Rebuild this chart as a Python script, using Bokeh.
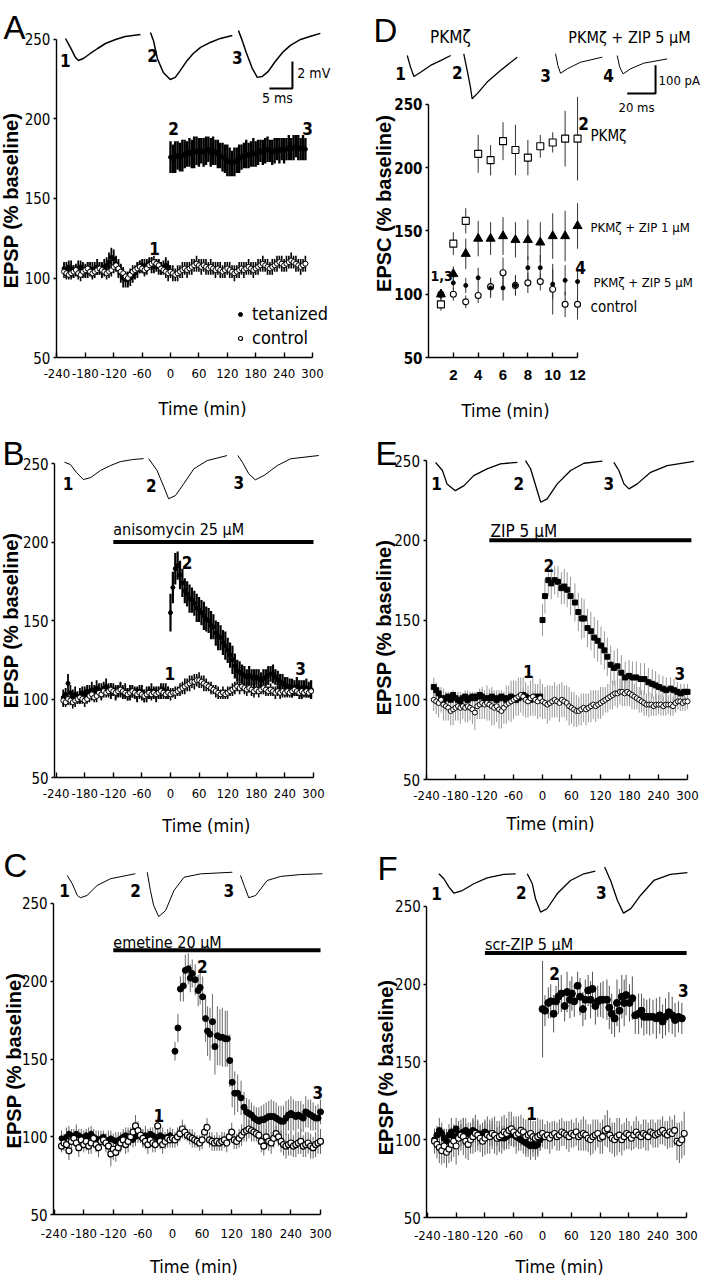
import math
from bokeh.plotting import figure
from bokeh.models import Range1d, Label, FixedTicker, Legend, LegendItem
from bokeh.layouts import column, row
from bokeh.embed import file_html
from bokeh.resources import INLINE

# ------------------------------------------------------------------ data
X_TICKS = [-240, -180, -120, -60, 0, 60, 120, 180, 240, 300]
X_TICK_LABELS = ["-240", "-180", "-120", "-60", "0", "60", "120", "180", "240", "300"]
Y_TICKS = [50, 100, 150, 200, 250]
D_X_TICKS = [2, 4, 6, 8, 10, 12]
D_X_TICK_LABELS = ["2", "4", "6", "8", "10", "12"]
T_BASE = list(range(-225, 0, 5))  # baseline sample times (min)

# Panel A (tetanized vs control)
A_POST_T = list(range(0, 290, 5))
A_TET_POST = [176,175,176,177,176,177,178,178,179,178,
              179,180,179,180,179,180,181,179,180,179,
              178,177,176,175,174,173,172,173,174,175,
              176,177,178,177,178,179,178,179,180,179,
              180,181,180,179,180,181,180,181,180,181,
              182,181,182,183,182,181,182,181]
A_TET_POST_E = [10,9,10,9,9,10,9,8,9,9,
                10,9,9,8,9,9,8,9,9,8,
                9,8,9,9,10,9,8,9,8,9,
                8,8,9,8,8,9,8,8,7,8,
                8,8,7,8,8,7,8,7,8,7,
                8,7,8,7,8,7,8,7]
A_TET_BASE = [106,105,107,106,104,105,106,107,105,104,
              105,106,105,106,107,106,105,107,108,110,
              113,112,109,106,103,100,99,99,100,101,
              103,105,107,108,107,108,109,108,107,108,
              107,106,107,108,107]
A_TET_BASE_E = [4,5,4,5,4,4,5,4,5,4,
                5,4,5,4,5,4,5,5,5,6,
                6,6,5,6,6,6,5,5,5,4,
                4,5,4,4,5,4,4,5,4,4,
                5,4,4,5,4]
A_CTL_T = list(range(-225, 290, 5))
A_CTL = [104,103,102,103,104,105,103,102,104,105,
         106,104,103,104,105,106,105,104,103,104,
         105,107,108,106,104,103,101,100,102,104,
         105,106,107,106,105,106,108,109,110,109,
         108,106,105,104,103,104,103,102,103,104,
         105,106,105,106,107,108,109,108,107,108,
         107,106,107,106,105,106,105,104,105,106,
         105,104,103,104,105,106,105,106,107,106,
         105,106,107,108,109,108,107,106,107,108,
         109,110,109,108,109,110,111,110,109,108,
         107,108,109]
A_CTL_E = [4,4,3,4,4,3,4,4,3,4,
           4,3,4,4,3,4,4,3,4,4,
           4,4,3,4,4,4,3,4,4,4,
           3,4,4,3,4,4,3,4,4,3,
           4,4,3,4,5,4,5,4,5,4,
           5,4,5,4,5,4,5,4,5,4,
           5,4,5,4,5,4,5,4,5,4,
           5,4,5,4,5,4,5,4,5,4,
           5,4,5,4,5,4,5,4,5,4,
           5,4,5,4,5,4,5,4,5,4,
           5,4,5]

# Panel B (anisomycin)
B_POST_T = list(range(0, 300, 5))
B_TET_POST = [155,171,183,185,179,174,169,167,164,163,
              161,158,157,155,153,151,150,147,146,142,
              140,139,136,134,131,128,125,121,118,117,
              116,115,114,115,114,113,114,113,112,113,
              114,115,116,116,114,112,111,110,109,108,
              108,107,107,108,107,106,107,107,106,106]
B_TET_POST_E = [12,10,10,9,9,9,8,8,9,8,
                8,9,8,8,9,8,8,9,8,8,
                9,8,8,9,8,8,9,8,7,7,
                6,6,5,6,5,6,5,6,5,6,
                5,6,5,6,5,6,5,6,5,6,
                5,6,5,6,5,6,5,6,5,6]
B_TET_BASE = [101,103,110,104,102,103,101,102,104,103,
              105,104,106,105,107,106,105,107,108,106,
              105,106,104,105,106,104,105,103,104,105,
              104,103,105,104,102,103,104,105,104,103,
              104,105,106,105,104]
B_TET_BASE_E = [5,4,6,5,4,5,4,5,4,5,
                4,5,5,4,5,4,5,4,5,4,
                5,4,5,4,5,4,5,4,5,4,
                4,5,4,5,4,5,4,5,4,5,
                4,5,4,5,4]
B_CTL_T = list(range(-225, 300, 5))
B_CTL = [99,98,100,99,98,99,100,101,100,99,
         100,102,103,101,102,104,103,105,104,105,
         106,105,104,105,106,105,104,103,104,105,
         104,103,104,103,102,103,104,103,104,103,
         104,105,104,103,104,103,104,104,105,106,
         107,108,109,110,111,111,112,112,111,110,
         109,108,107,106,105,104,103,104,103,104,
         105,106,107,108,107,108,107,106,107,106,
         105,106,105,106,107,106,105,106,105,104,
         105,104,105,104,105,104,105,106,105,104,
         105,104,105,104,105]
B_CTL_E = [4,3,4,3,4,4,3,4,3,4,
           3,4,4,3,4,3,4,4,3,4,
           4,3,4,3,4,4,3,4,3,4,
           3,4,4,3,4,3,4,4,3,4,
           4,3,4,3,4,4,3,4,3,4,
           4,5,4,5,4,5,4,5,4,5,
           4,3,4,3,4,4,3,4,3,4,
           3,4,4,3,4,3,4,4,3,4,
           4,3,4,3,4,4,3,4,3,4,
           3,4,4,3,4,3,4,4,3,4,
           4,3,4,3,4]

# Panel C (emetine)
C_TET_POST_T = [5,11,16,22,26,32,36,40,46,52,
                56,61,67,71,76,81,86,91,96,101,
                107,111,116,121,126,132,139,145,
                150,155,160,165,170,175,180,185,190,195,
                200,205,210,215,220,225,230,235,240,245,
                250,255,260,265,270,275,280,285,290,295,
                300]
C_TET_POST = [155,170,195,197,207,208,202,205,201,194,
              196,190,176,168,166,174,158,165,164,164,
              163,163,149,135,128,128,125,119,
              116,115,114,112,111,110,111,111,112,113,
              113,113,112,111,110,110,112,114,115,114,
              113,114,113,112,116,115,114,113,112,112,
              116]
C_TET_POST_E = [6,9,8,10,10,10,9,9,10,10,
                11,13,15,16,17,18,18,19,18,19,
                18,18,17,16,14,12,11,10,
                9,9,8,8,8,9,9,10,10,10,
                11,10,10,9,10,10,11,10,11,10,
                10,9,10,9,10,9,10,9,8,9,
                8]
C_TET_BASE = [99,98,100,102,101,100,102,101,100,99,
              101,100,102,100,99,98,99,100,97,98,
              99,98,97,98,99,100,101,100,99,98,
              100,101,100,99,101,100,102,101,100,99,
              101,100,99,100,101]
C_TET_BASE_E = [5,4,6,5,4,5,6,4,5,5,
                4,6,5,4,5,6,5,4,5,6,
                5,4,6,5,4,5,5,6,4,5,
                6,5,4,5,6,5,4,5,5,4,
                5,6,4,5,5]
C_CTL_T = list(range(-225, 305, 5))
C_CTL = [94,96,95,91,97,99,96,93,98,95,
         97,94,96,99,95,93,97,98,96,94,
         89,92,90,93,96,98,95,97,100,103,
         107,104,101,99,97,95,98,96,95,107,
         97,95,97,99,98,99,98,100,102,105,
         103,101,100,99,98,97,96,98,103,106,
         98,97,96,97,96,97,98,96,100,103,
         98,97,99,101,103,104,105,104,103,102,
         101,97,94,100,97,96,99,102,100,97,
         95,94,95,96,94,95,96,97,94,95,
         96,94,93,95,96,97]
C_CTL_E = [4,5,4,6,5,4,5,6,4,5,
           6,5,7,6,5,6,5,4,6,5,
           8,7,6,5,6,5,6,7,6,5,
           7,6,5,6,5,6,5,6,5,6,
           5,6,5,6,5,6,5,6,5,6,
           5,4,5,6,5,4,5,6,5,6,
           5,6,5,6,5,6,5,6,5,6,
           6,5,6,7,6,7,6,7,6,5,
           6,7,6,5,6,7,6,5,6,7,
           7,8,7,8,7,8,7,8,7,8,
           7,8,7,8,7,8]

# Panel D (PKMzeta perfusion, EPSC)
D_X = [1,2,3,4,5,6,7,8,9,10,11,12]
D_PKM = [92,140,158,211,206,221,214,208,217,220,223,223]
D_PKM_E = [5,9,10,15,12,15,20,14,9,8,22,33]
D_ZIP1 = [100,116,132,144,144,146,143,143,141,146,146,154]
D_ZIP1_E = [4,6,12,14,13,15,14,16,16,18,20,18]
D_ZIP5 = [100,109,107,113,105,105,107,121,121,108,111,110]
D_ZIP5_E = [3,5,6,8,8,10,8,9,10,12,12,10]
D_CTL = [100,100,94,99,106,117,107,109,110,104,92,92]
D_CTL_E = [4,5,5,6,7,12,8,8,7,20,10,12]

# Panel E (ZIP 5 uM)
E_TET_POST_T = [0,5,12,18,25,32,39,45,51,58,
                67,74,81,86,93,100,107,114,121,128,
                134,141,148,155,163,171,179,186,194,203,
                211,219,227,234,241,249,256,265,272,279,
                286,293,300]
E_TET_POST = [150,165,175,173,175,174,170,171,169,165,
              161,155,151,151,145,143,139,137,134,131,
              127,122,120,121,117,114,115,114,114,113,
              113,111,110,109,108,107,106,107,106,105,
              104,105,105]
E_TET_POST_E = [10,11,10,10,9,10,10,11,11,12,
                12,12,13,12,12,12,13,13,12,12,
                12,12,11,11,11,10,10,10,10,10,
                10,9,9,9,8,8,8,7,7,6,
                6,5,5]
E_TET_BASE = [108,106,104,101,100,101,102,100,103,101,
              100,99,101,102,100,101,102,101,102,103,
              102,101,100,101,102,101,100,101,102,101,
              100,101,102,101,100,101,102,103,102,101,
              100,101,102,101,102]
E_TET_BASE_E = [6,5,4,4,3,4,3,4,3,4,
                3,4,3,4,3,4,3,4,3,4,
                4,3,4,3,4,3,4,3,4,3,
                3,4,3,4,3,4,3,4,3,4,
                4,3,4,3,4]
E_CTL_T = list(range(-225, 305, 5))
E_CTL = [100,99,98,100,97,96,95,93,94,95,
         96,95,96,95,96,95,94,92,96,97,
         98,97,98,97,96,95,96,94,93,95,
         97,98,99,100,101,102,103,102,100,99,
         101,102,100,99,101,99,98,97,98,99,
         100,99,98,100,99,98,96,95,94,93,
         93,94,95,94,95,96,97,96,97,98,
         99,100,101,102,103,104,104,105,105,104,
         105,104,103,102,101,100,99,98,97,97,
         97,96,97,97,97,96,97,97,97,96,
         98,99,99,98,99,99]
E_CTL_E = [7,8,9,8,10,9,8,9,10,8,
           9,10,8,9,10,8,9,11,8,9,
           10,9,11,10,12,11,10,12,11,10,
           12,11,13,12,11,12,11,12,11,10,
           11,12,10,11,12,11,10,12,11,10,
           11,10,12,11,10,11,12,10,11,10,
           9,10,9,10,9,10,9,10,9,10,
           9,8,9,8,9,8,9,8,9,8,
           9,8,9,8,7,8,7,8,7,8,
           7,6,7,6,7,6,7,6,7,6,
           6,5,6,5,6,5]

# Panel F (scr-ZIP 5 uM)
F_TET_POST_T = [0,5,12,17,23,28,33,39,46,51,
                57,61,66,73,78,84,89,95,100,104,
                110,115,121,126,134,139,144,150,155,160,
                165,170,174,181,187,193,200,206,211,217,
                223,230,237,244,250,256,263,270,276,283,
                290]
F_TET_POST = [184,183,188,189,181,189,192,194,186,195,
              190,194,189,199,192,184,190,196,190,197,
              186,189,190,190,190,185,181,178,188,183,
              192,188,193,188,191,180,181,183,179,179,
              179,179,178,180,176,179,182,180,177,179,
              178]
F_TET_POST_E = [31,10,10,11,12,10,11,12,10,13,
                12,11,10,9,12,11,13,10,12,11,
                12,10,11,12,13,14,13,12,15,14,
                14,15,13,12,14,12,13,11,12,11,
                12,11,13,12,11,12,13,12,11,10,
                10]
F_TET_BASE = [100,103,106,104,101,99,103,105,102,107,
              104,103,105,106,104,105,106,105,104,103,
              104,105,104,103,104,103,102,101,102,101,
              102,103,104,103,102,101,100,99,98,97,
              96,97,96,97,100]
F_TET_BASE_E = [7,6,8,7,6,8,7,9,8,7,
                8,7,9,8,7,6,8,7,8,6,
                7,8,6,7,8,7,6,8,7,8,
                7,6,8,7,6,8,7,8,9,8,
                9,8,9,8,7]
F_CTL_T = list(range(-225, 300, 5))
F_CTL = [99,97,95,93,96,92,94,97,99,96,
         101,103,102,99,97,100,102,104,103,101,
         99,101,103,102,104,103,101,102,103,105,
         104,106,107,105,103,104,106,105,102,103,
         104,102,101,102,103,104,102,103,101,103,
         104,102,103,105,104,103,102,104,103,105,
         102,103,104,103,101,100,102,103,104,101,
         102,106,107,103,101,100,102,103,100,102,
         104,103,101,103,105,103,102,104,103,102,
         105,104,103,104,105,106,104,103,105,104,
         106,99,98,100,104]
F_CTL_E = [8,9,10,9,11,10,9,11,10,12,
           11,10,12,11,10,9,11,12,10,9,
           10,11,12,11,10,12,11,10,12,11,
           10,12,11,10,12,11,10,9,11,10,
           9,10,11,12,10,9,8,9,10,9,
           8,9,10,9,8,9,10,9,8,9,
           9,10,11,10,9,10,11,10,9,10,
           11,10,12,11,10,11,12,11,10,9,
           10,9,8,9,10,9,8,9,10,9,
           8,9,8,9,8,9,8,9,10,9,
           10,12,13,12,14]

# Example EPSP / EPSC traces: time (ms) and deflection (mV or pA)
A_TR1_MS = [0,1.1,2.2,2.8,3.9,5.4,7.0,8.7,10.9,13.0,16.3]
A_TR1_MV = [0,-0.67,-1.41,-1.63,-1.48,-1.11,-0.74,-0.37,-0.07,0.15,0.30]
A_TR2_MS = [0,0.65,1.5,2.8,4.3,5.4,6.5,8.0,9.3,10.9,13.0,15.2,17.8]
A_TR2_MV = [0,-0.59,-1.93,-2.96,-3.48,-3.33,-2.81,-2.07,-1.56,-1.11,-0.74,-0.44,-0.22]
A_TR3_MS = [0,0.65,1.7,3.0,4.1,5.2,6.5,8.0,9.6,11.3,13.5,15.7,17.8]
A_TR3_MV = [0,-0.59,-1.63,-2.81,-3.48,-3.41,-3.04,-2.30,-1.63,-1.11,-0.67,-0.44,-0.22]
B_TR1_MS = [0,1.3,2.6,4.1,5.7,7.8,10.0,12.2,14.8,17.2]
B_TR1_MV = [0,-0.17,-0.76,-1.28,-1.13,-0.61,-0.24,0.05,0.20,0.27]
B_TR2_MS = [0,1.8,3.3,4.3,5.8,7.6,9.8,12.7,17.0]
B_TR2_MV = [0,-0.87,-2.10,-2.96,-2.72,-1.85,-0.74,-0.13,0.24]
B_TR3_MS = [0,1.0,2.4,3.8,5.7,8.6,11.5,17.6]
B_TR3_MV = [0,-0.50,-1.36,-1.80,-1.48,-0.74,-0.24,0.0]
C_TR1_MS = [0,1.1,2.2,2.9,4.3,6.5,9.4,14.8]
C_TR1_MV = [0,-0.61,-1.48,-1.65,-1.48,-0.74,-0.24,0.13]
C_TR2_MS = [0,0.7,1.4,2.5,4.0,5.8,8.0,11.6,18.5]
C_TR2_MV = [0,-1.36,-2.47,-3.28,-2.84,-1.36,-0.37,-0.12,0.0]
C_TR3_MS = [0,0.87,1.8,3.3,5.8,8.7,13.0,17.8]
C_TR3_MV = [0,-0.81,-1.65,-1.48,-0.37,-0.07,0.07,0.13]
D_TR1_MS = [0,2.3,4.7,9.4,16.4,23.5,30.6]
D_TR1_PA = [0,-41,-74,-59,-35,-18,0]
D_TR2_MS = [0,2.4,4.7,5.9,9.5,16.5,25.9,37.7]
D_TR2_PA = [0,-59,-118,-159,-141,-100,-59,-12]
D_TR3_MS = [0,1.6,3.5,8.3,17.6,33.0]
D_TR3_PA = [0,-41,-69,-53,-30,-12]
D_TR4_MS = [0,1.8,4.2,9.4,18.8,35.3]
D_TR4_PA = [0,-41,-65,-47,-27,-12]
E_TR1_MS = [0,1.5,2.5,4.3,6.2,8.3,11.2,14.1,17.8]
E_TR1_MV = [0,-0.61,-1.6,-2.1,-1.73,-0.99,-0.49,-0.12,0.0]
E_TR2_MS = [0,1.1,2.2,3.3,4.7,6.9,9.8,12.7,16.7]
E_TR2_MV = [0,-0.61,-1.85,-3.09,-2.84,-1.73,-0.74,-0.2,-0.05]
E_TR3_MS = [0,1.1,2.2,3.3,5.1,8.0,11.6,17.4]
E_TR3_MV = [0,-0.61,-1.6,-1.97,-1.6,-0.74,-0.24,0.07]
F_TR1_MS = [0,1.1,2.2,3.3,5.1,7.6,10.5,14.1,16.7]
F_TR1_MV = [0,-0.37,-0.99,-1.44,-1.24,-0.74,-0.3,-0.05,0.0]
F_TR2_MS = [0,1.1,1.8,2.9,4.3,6.5,9.4,12.3,14.8]
F_TR2_MV = [0,-0.74,-1.85,-2.84,-2.59,-1.48,-0.5,0.0,0.19]
F_TR3_MS = [0,1.3,2.8,4.1,5.7,7.8,10.7,14.3,18.0]
F_TR3_MV = [0,-0.99,-2.47,-3.41,-3.08,-2.1,-0.99,-0.54,-0.41]

# ------------------------------------------------------------------ helpers
NARROW = "DejaVu Sans Condensed, Roboto, sans-serif"
SANS = "Liberation Sans, Arial, sans-serif"


def new_fig(w, h, xr, yr):
    p = figure(width=w, height=h, x_range=Range1d(*xr), y_range=Range1d(*yr),
               output_backend="svg", toolbar_location=None, title=None,
               min_border_left=0, min_border_right=0, min_border_top=0,
               min_border_bottom=0)
    p.outline_line_color = None
    p.xgrid.visible = False
    p.ygrid.visible = False
    p.background_fill_color = "white"
    p.border_fill_color = "white"
    return p


def set_axes(p, xstart, xend, xticks, xlabels, xfont, xsize, xstyle, yfont, ysize, ystyle,
             xstand):
    xa = p.xaxis[0]
    xa.fixed_location = 50
    xa.bounds = (xstart, xend)
    xa.ticker = FixedTicker(ticks=xticks)
    xa.major_label_overrides = {t: s for t, s in zip(xticks, xlabels)}
    xa.major_tick_in = 5
    xa.major_tick_out = 0
    xa.minor_tick_line_color = None
    xa.axis_line_width = 1.4
    xa.major_tick_line_width = 1.4
    xa.axis_line_color = "black"
    xa.major_tick_line_color = "black"
    xa.major_label_text_font = xfont
    xa.major_label_text_font_size = xsize
    xa.major_label_text_font_style = xstyle
    xa.major_label_text_color = "black"
    xa.major_label_standoff = xstand
    ya = p.yaxis[0]
    ya.fixed_location = xstart
    ya.bounds = (50, 250)
    ya.ticker = FixedTicker(ticks=Y_TICKS)
    ya.major_tick_in = 0
    ya.major_tick_out = 3
    ya.minor_tick_line_color = None
    ya.axis_line_width = 1.4
    ya.major_tick_line_width = 1.4
    ya.axis_line_color = "black"
    ya.major_tick_line_color = "black"
    ya.major_label_text_font = yfont
    ya.major_label_text_font_size = ysize
    ya.major_label_text_font_style = ystyle
    ya.major_label_text_color = "black"
    ya.major_label_standoff = 3


def txt(p, x, y, s, size, font=NARROW, style="normal", align="center",
        baseline="middle", angle=0.0):
    p.add_layout(Label(x=x, y=y, text=s, text_font=font, text_font_size=f"{size}px",
                       text_font_style=style, text_align=align, text_baseline=baseline,
                       angle=angle, text_color="black"))


def errbars(p, t, v, e, color, lw):
    lo = [a - b for a, b in zip(v, e)]
    hi = [a + b for a, b in zip(v, e)]
    p.segment(x0=t, y0=lo, x1=t, y1=hi, line_color=color, line_width=lw)


def dots(p, t, v, filled, size, marker="circle", lw=1.0):
    return p.scatter(x=t, y=v, marker=marker, size=size,
                     fill_color="black" if filled else "white",
                     line_color="black", line_width=lw)


def trace(p, t0, v0, ms, amp, kx, ky, lw=1.3):
    p.line(x=[t0 + a * kx for a in ms], y=[v0 + b * ky for b in amp],
           line_color="black", line_width=lw)


def letter(p, x, y, s):
    txt(p, x, y, s, 33, font=SANS, align="left", baseline="alphabetic")


def ylab(p, x, y, s):
    txt(p, x, y, s, 20, font=SANS, style="bold", angle=math.pi / 2)


def xlab(p, x, y):
    txt(p, x, y, "Time (min)", 18)


# ------------------------------------------------------------------ panel A
pA = new_fig(350, 420, (-359.2, 380.3), (10.4, 274.5))
set_axes(pA, -241, 300, X_TICKS, X_TICK_LABELS, NARROW, "13px", "normal",
         NARROW, "15px", "normal", 11)
errbars(pA, A_CTL_T, A_CTL, A_CTL_E, "black", 1.6)
errbars(pA, T_BASE, A_TET_BASE, A_TET_BASE_E, "black", 1.8)
errbars(pA, A_POST_T, A_TET_POST, A_TET_POST_E, "black", 2.4)
dots(pA, T_BASE, A_TET_BASE, True, 4)
dots(pA, A_POST_T, A_TET_POST, True, 4)
dots(pA, A_CTL_T, A_CTL, False, 5, lw=1.0)
trace(pA, -222, 250.6, A_TR1_MS, A_TR1_MV, 9.72, 8.49, lw=1.5)
trace(pA, -42.4, 254.4, A_TR2_MS, A_TR2_MV, 9.72, 8.49, lw=1.5)
trace(pA, 143.5, 255.7, A_TR3_MS, A_TR3_MV, 9.72, 8.49, lw=1.5)
pA.line(x=[257.6 - 5 * 9.72, 257.6, 257.6], y=[219.2, 219.2, 219.2 + 2 * 8.49],
        line_color="black", line_width=2)
txt(pA, 268, 228.6, "2 mV", 14, align="left")
txt(pA, 226, 212.9, "5 ms", 14)
for s, x, y in [("1", -222, 236.8), ("2", -38, 240), ("3", 141.4, 238.7),
                ("2", 6.3, 194), ("3", 289.5, 194), ("1", -33.8, 118.6)]:
    txt(pA, x, y, s, 17, style="bold")
lg1 = pA.scatter(x=[9999], y=[9999], marker="circle", size=7, fill_color="black",
                 line_color="black")
lg2 = pA.scatter(x=[9999], y=[9999], marker="circle", size=7, fill_color="white",
                 line_color="black", line_width=1.2)
legA = Legend(items=[LegendItem(label="tetanized", renderers=[lg1]),
                     LegendItem(label="control", renderers=[lg2])],
              location=(235, 72), border_line_color=None, background_fill_alpha=0,
              label_text_font=NARROW, label_text_font_size="18px", label_text_color="black",
              glyph_width=10, glyph_height=12, label_standoff=7, spacing=3,
              padding=0, margin=0)
pA.add_layout(legA)
letter(pA, -352.8, 257.5, "A")
ylab(pA, -336, 148.7, "EPSP (% baseline)")
xlab(pA, 67.6, 17.9)

# ------------------------------------------------------------------ panel B
pB = new_fig(350, 420, (-356.6, 377.6), (9.9, 277.4))
set_axes(pB, -243, 300, X_TICKS, X_TICK_LABELS, NARROW, "13px", "normal",
         NARROW, "15px", "normal", 11)
errbars(pB, B_CTL_T, B_CTL, B_CTL_E, "black", 1.6)
errbars(pB, T_BASE, B_TET_BASE, B_TET_BASE_E, "black", 1.8)
errbars(pB, B_POST_T, B_TET_POST, B_TET_POST_E, "black", 2.2)
dots(pB, T_BASE, B_TET_BASE, True, 4)
dots(pB, B_POST_T, B_TET_POST, True, 4)
dots(pB, B_CTL_T, B_CTL, False, 5)
trace(pB, -222.3, 250.8, B_TR1_MS, B_TR1_MV, 9.65, 8.6, lw=1.0)
trace(pB, -45.5, 253, B_TR2_MS, B_TR2_MV, 9.65, 8.6, lw=1.0)
trace(pB, 141.2, 255.1, B_TR3_MS, B_TR3_MV, 9.65, 8.6, lw=1.0)
for s, x, y in [("1", -214.6, 237.1), ("2", -40.4, 236), ("3", 143.3, 238.1),
                ("2", 35, 187), ("1", -1.5, 116), ("3", 272.7, 119.2)]:
    txt(pB, x, y, s, 17, style="bold")
pB.line(x=[-120, 300], y=[200, 200], line_color="black", line_width=4)
txt(pB, -120, 208, "anisomycin 25 μM", 16, align="left", baseline="alphabetic")
letter(pB, -352.4, 256.4, "B")
ylab(pB, -335.6, 150, "EPSP (% baseline)")
xlab(pB, 75.1, 19.4)

# ------------------------------------------------------------------ panel C
pC = new_fig(350, 440, (-348.7, 360.8), (7.6, 290.5))
set_axes(pC, -241, 300, X_TICKS, X_TICK_LABELS, NARROW, "13px", "normal",
         NARROW, "15px", "normal", 14)
errbars(pC, C_CTL_T, C_CTL, C_CTL_E, "#666666", 1.0)
errbars(pC, T_BASE, C_TET_BASE, C_TET_BASE_E, "#666666", 1.0)
errbars(pC, C_TET_POST_T, C_TET_POST, C_TET_POST_E, "#777777", 1.1)
dots(pC, T_BASE, C_TET_BASE, True, 5)
dots(pC, C_TET_POST_T, C_TET_POST, True, 6)
dots(pC, C_CTL_T, C_CTL, False, 6, lw=1.2)
trace(pC, -213.5, 268, C_TR1_MS, C_TR1_MV, 9.33, 8.68, lw=1.0)
trace(pC, -51.3, 270.1, C_TR2_MS, C_TR2_MV, 9.33, 8.68, lw=1.0)
trace(pC, 137.8, 268, C_TR3_MS, C_TR3_MV, 9.33, 8.68, lw=1.0)
for s, x, y in [("1", -218.9, 258.4), ("2", -75, 258.4), ("3", 114.1, 258.4),
                ("2", 60.2, 209.5), ("1", -27.8, 113.7), ("3", 294.6, 128.3)]:
    txt(pC, x, y, s, 17, style="bold")
pC.line(x=[-120, 300], y=[220, 220], line_color="black", line_width=4)
txt(pC, -120, 225, "emetine 20 μM", 16, align="left", baseline="alphabetic")
letter(pC, -342.6, 274.4, "C")
ylab(pC, -322.3, 149, "EPSP (% baseline)")
xlab(pC, 43.2, 16.5)

# ------------------------------------------------------------------ panel D
pD = new_fig(351, 420, (-6.28, 21.98), (0.2, 332.2))
set_axes(pD, 0, 12, D_X_TICKS, D_X_TICK_LABELS, SANS, "15px", "bold",
         NARROW, "15px", "bold", 12)
errbars(pD, D_X, D_CTL, D_CTL_E, "#333333", 1.0)
errbars(pD, D_X, D_ZIP5, D_ZIP5_E, "#333333", 1.0)
errbars(pD, D_X, D_ZIP1, D_ZIP1_E, "#333333", 1.0)
errbars(pD, D_X, D_PKM, D_PKM_E, "#333333", 1.0)
dots(pD, D_X, D_CTL, False, 6, lw=1.1)
dots(pD, D_X, D_ZIP5, True, 4)
dots(pD, D_X, D_ZIP1, True, 9, marker="triangle")
dots(pD, D_X, D_PKM, False, 7, marker="square", lw=1.1)
trace(pD, -1.71, 288.7, D_TR1_MS, D_TR1_PA, 0.1141, 0.2237)
trace(pD, 2.84, 290.1, D_TR2_MS, D_TR2_PA, 0.1141, 0.2237)
trace(pD, 10.23, 290.1, D_TR3_MS, D_TR3_PA, 0.1141, 0.2237, lw=1.0)
trace(pD, 15.19, 288.7, D_TR4_MS, D_TR4_PA, 0.1141, 0.2237, lw=1.0)
pD.line(x=[18.28 - 20 * 0.1141, 18.28, 18.28], y=[258.7, 258.7, 258.7 + 100 * 0.2237],
        line_color="black", line_width=2)
txt(pD, 18.52, 269, "100 pA", 13, align="left")
txt(pD, 16.75, 247.6, "20 ms", 13)
for s, x, y in [("1", -2.25, 274.5), ("2", 2.33, 275.3), ("3", 9.42, 272.9), ("4", 14.49, 272.9),
                ("2", 12.48, 235), ("4", 12.24, 121.1)]:
    txt(pD, x, y, s, 17, style="bold")
txt(pD, 1.05, 114.8, "1,3", 14, style="bold")
txt(pD, 1.77, 303, "PKMζ", 17)
txt(pD, 16.18, 303, "PKMζ + ZIP 5 μM", 16)
txt(pD, 13.04, 224.7, "PKMζ", 15, align="left")
txt(pD, 13.04, 152.8, "PKMζ + ZIP 1 μM", 13, align="left")
txt(pD, 13.28, 109.3, "PKMζ + ZIP 5 μM", 13, align="left")
txt(pD, 13.04, 90.3, "control", 15, align="left")
letter(pD, -4.43, 308.5, "D")
ylab(pD, -3.62, 171.7, "EPSC (% baseline)")
xlab(pD, 6.2, 8.1)

# ------------------------------------------------------------------ panel E
pE = new_fig(351, 420, (-397.3, 328.9), (11.8, 275.1))
set_axes(pE, -241, 300, X_TICKS, X_TICK_LABELS, NARROW, "13px", "normal",
         NARROW, "15px", "normal", 11)
errbars(pE, E_CTL_T, E_CTL, E_CTL_E, "#999999", 1.0)
errbars(pE, T_BASE, E_TET_BASE, E_TET_BASE_E, "#999999", 1.0)
errbars(pE, E_TET_POST_T, E_TET_POST, E_TET_POST_E, "#999999", 1.0)
dots(pE, T_BASE, E_TET_BASE, True, 5, marker="square")
dots(pE, E_TET_POST_T, E_TET_POST, True, 5, marker="square")
dots(pE, E_CTL_T, E_CTL, False, 5, lw=1.0)
trace(pE, -221.4, 248.9, E_TR1_MS, E_TR1_MV, 9.52, 8.46)
trace(pE, -35.2, 250, E_TR2_MS, E_TR2_MV, 9.52, 8.46)
trace(pE, 147.5, 248.9, E_TR3_MS, E_TR3_MV, 9.52, 8.46)
for s, x, y in [("1", -219.3, 235.4), ("2", -49, 235.4), ("3", 137.2, 235.4),
                ("2", 13, 184.2), ("1", -29.6, 117.9), ("3", 284.1, 116.3)]:
    txt(pE, x, y, s, 17, style="bold")
pE.line(x=[-110, 308], y=[200, 200], line_color="black", line_width=4)
txt(pE, -107.6, 206, "ZIP 5 μM", 17, align="left", baseline="alphabetic")
letter(pE, -345.5, 254.4, "E")
ylab(pE, -329, 145.3, "EPSP (% baseline)")
xlab(pE, 16.6, 22.2)

# ------------------------------------------------------------------ panel F
pF = new_fig(351, 440, (-400, 331), (9.5, 292.4))
set_axes(pF, -241, 300, X_TICKS, X_TICK_LABELS, NARROW, "13px", "normal",
         NARROW, "15px", "normal", 13)
errbars(pF, F_CTL_T, F_CTL, F_CTL_E, "#666666", 1.0)
errbars(pF, T_BASE, F_TET_BASE, F_TET_BASE_E, "#666666", 1.0)
errbars(pF, F_TET_POST_T, F_TET_POST, F_TET_POST_E, "#555555", 1.0)
dots(pF, T_BASE, F_TET_BASE, True, 6)
dots(pF, F_TET_POST_T, F_TET_POST, True, 7)
dots(pF, F_CTL_T, F_CTL, False, 6, lw=1.1)
trace(pF, -216, 271, F_TR1_MS, F_TR1_MV, 9.58, 8.68)
trace(pF, -31.9, 271, F_TR2_MS, F_TR2_MV, 9.58, 8.68)
trace(pF, 129.2, 275.3, F_TR3_MS, F_TR3_MV, 9.58, 8.68)
for s, x, y in [("1", -220.8, 258.2), ("2", -44.4, 259.2), ("3", 122.3, 259.2),
                ("2", 25, 206.7), ("1", -22.9, 116.7), ("3", 293, 196)]:
    txt(pF, x, y, s, 17, style="bold")
pF.line(x=[-120, 300], y=[220, 220], line_color="black", line_width=4)
txt(pF, -120, 225.5, "scr-ZIP  5 μM", 16, align="left", baseline="alphabetic")
letter(pF, -343.75, 274.4, "F")
ylab(pF, -327, 146.5, "EPSP (% baseline)")
xlab(pF, 35.4, 18.5)

layout = column(row(pA, pD), row(pB, pE), row(pC, pF))
open("out.html", "w").write(file_html(layout, INLINE))
